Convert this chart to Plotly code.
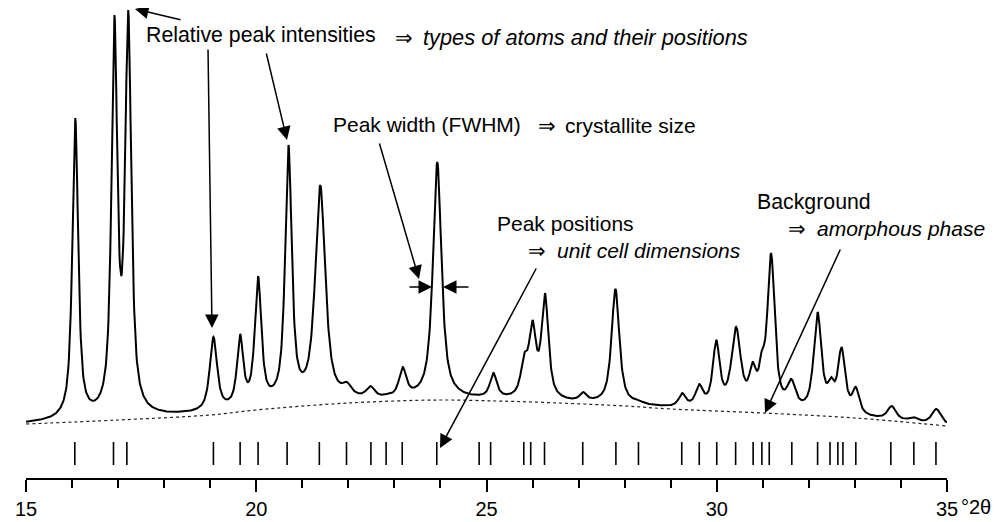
import numpy as np
import plotly.graph_objects as go

# ---------------- data ----------------
# intensity in arbitrary units (0 = axis line)
peak_pos = [16.07, 16.92, 17.22, 19.07, 19.65, 20.04, 20.70, 21.39, 21.97, 22.48,
            22.83, 23.18, 23.93, 25.15, 25.82, 26.00, 26.27, 27.10, 27.80, 28.30,
            29.25, 29.62, 29.99, 30.42, 30.78, 30.98, 31.18, 31.62, 32.19, 32.48,
            32.71, 33.02, 33.80, 34.27, 34.77]
peak_top = [360, 463, 468, 141, 144, 202, 333, 293, 96, 92,
            84, 111, 316, 105, 125, 158, 185, 86, 189, 78,
            85, 94, 138, 151, 116, 128, 225, 99, 166, 101,
            131, 91, 72, 61, 69]
peak_fwhm = [0.15, 0.15, 0.16, 0.19, 0.16, 0.17, 0.17, 0.26, 0.24, 0.22,
             0.18, 0.19, 0.22, 0.18, 0.18, 0.18, 0.18, 0.18, 0.20, 0.24,
             0.18, 0.19, 0.18, 0.24, 0.18, 0.15, 0.19, 0.22, 0.20, 0.17,
             0.19, 0.18, 0.22, 0.22, 0.24]

bg_x = [15, 17, 19, 20, 22, 24, 25.2, 26, 28, 29, 31, 33, 35]
bg_y = [54, 58, 63, 68, 75, 78, 77, 76, 72, 69, 65, 60, 52]

reflections = [16.06, 16.90, 17.19, 19.07, 19.65, 20.04, 20.67, 21.37, 21.96, 22.49,
               22.82, 23.17, 23.92, 24.84, 25.09, 25.81, 25.96, 26.26, 27.09, 27.81,
               28.30, 29.24, 29.62, 30.00, 30.41, 30.79, 30.98, 31.14, 31.63, 32.19,
               32.46, 32.63, 32.74, 33.02, 33.78, 34.28, 34.76]

x_major = [15, 20, 25, 30, 35]
x_labels = ["15", "20", "25", "30", "35"]
x_unit = "°2θ"

# ---------------- profile model ----------------
ETA = 0.8


def pv(x, c, w):
    d = (np.asarray(x) - c) / w
    return ETA / (1 + 4 * d ** 2) + (1 - ETA) * np.exp(-4 * np.log(2) * d ** 2)


pp = np.array(peak_pos)
pw = np.array(peak_fwhm)
bg_at_peaks = np.interp(pp, bg_x, bg_y)
M = np.array([[pv(pp[i], pp[j], pw[j]) for j in range(len(pp))] for i in range(len(pp))])
amp = np.linalg.solve(M, np.array(peak_top) - bg_at_peaks)
amp = np.clip(amp, 0, None)

xs = np.linspace(15, 35, 2001)
ys = np.interp(xs, bg_x, bg_y) + sum(a * pv(xs, c, w) for a, c, w in zip(amp, pp, pw))

# ---------------- geometry helpers (page pixel -> data) ----------------
# the page body has an 8px margin, so the figure is 992x514 and offset by 8px
X0, PXD, YAX = 26.0, 921.0 / 20.0, 478.0
PLOT_H = 470.0


def dx(px):
    return 15 + (px - X0) / PXD


def dy(py):
    return YAX - py


FONT = "Liberation Sans, Arial, Helvetica, sans-serif"

fig = go.Figure()

fig.add_trace(go.Scatter(x=bg_x, y=bg_y, mode="lines", line=dict(color="#222", width=1.2, dash="dot", shape="spline"),
                         hoverinfo="skip", showlegend=False))
fig.add_trace(go.Scatter(x=xs, y=ys, mode="lines", line=dict(color="black", width=2),
                         showlegend=False, cliponaxis=False))

tick_lo, tick_hi = dy(465), dy(442)
rx, ry = [], []
for r in reflections:
    rx += [r, r, None]
    ry += [tick_lo, tick_hi, None]
fig.add_trace(go.Scatter(x=rx, y=ry, mode="lines", line=dict(color="black", width=1.6),
                         hoverinfo="skip", showlegend=False))

# ---------------- arrows ----------------
arrows = [
    ((182, 20), (135, 9)),
    ((208, 48), (212, 328)),
    ((266, 52), (287, 140)),
    ((379, 142), (419, 279)),
    ((408, 287), (432, 287)),
    ((470, 287), (443, 287)),
    ((537, 267), (440, 448)),
    ((841, 248), (765, 413)),
]
for (tx, ty), (hx, hy) in arrows:
    fig.add_annotation(x=dx(hx), y=dy(hy), ax=dx(tx), ay=dy(ty), xref="x", yref="y", axref="x", ayref="y",
                       text="", showarrow=True, arrowhead=2, arrowsize=1.8, arrowwidth=1.5, arrowcolor="black")

# ---------------- texts ----------------
texts = [
    (144, 35, "Relative peak intensities", 21.3),
    (393, 37, "⇒", 21),
    (421, 37, "<i>types of atoms and their positions</i>", 21.8),
    (331, 124, "Peak width (FWHM)", 21),
    (536, 125, "⇒", 21),
    (563, 125, "crystallite size", 21),
    (495, 223, "Peak positions", 21),
    (526, 250, "⇒", 21),
    (555, 250, "<i>unit cell dimensions</i>", 21),
    (755, 202, "Background", 21.3),
    (786, 228, "⇒", 21),
    (815, 228, "<i>amorphous phase</i>", 21),
]
for px, py, t, fs in texts:
    fig.add_annotation(x=dx(px), y=dy(py), xref="x", yref="y", text=t, showarrow=False,
                       xanchor="left", yanchor="middle", font=dict(family=FONT, size=fs, color="black"))

# axis unit label next to the last tick label (paper coords so it is not hidden off-range)
fig.add_annotation(x=(959 - X0) / 921.0, y=dy(507) / PLOT_H, xref="paper", yref="paper", text=x_unit,
                   showarrow=False, xanchor="left", yanchor="middle",
                   font=dict(family=FONT, size=20, color="black"))

fig.update_layout(
    width=992, height=514, autosize=False,
    margin=dict(l=18, r=53, t=0, b=44),
    paper_bgcolor="white", plot_bgcolor="white",
    xaxis=dict(range=[15, 35], showline=True, linecolor="black", linewidth=2, mirror=False,
               showgrid=False, zeroline=False, ticks="outside", ticklen=12, tickwidth=2, tickcolor="black",
               tickvals=x_major, ticktext=x_labels,
               tickfont=dict(family=FONT, size=20, color="black"),
               minor=dict(dtick=1, ticks="outside", ticklen=8, tickwidth=2, tickcolor="black", showgrid=False)),
    yaxis=dict(range=[0, PLOT_H], visible=False, showgrid=False, zeroline=False),
)

fig.write_html("out.html")
